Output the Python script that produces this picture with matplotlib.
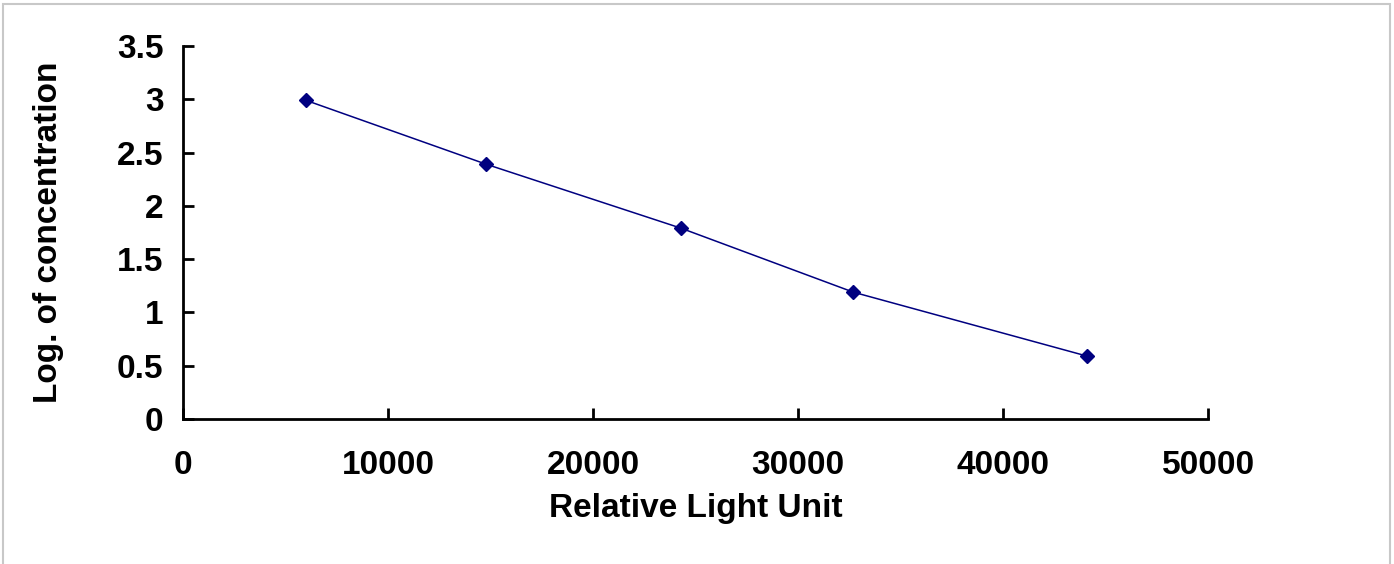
import matplotlib.pyplot as plt
from matplotlib.patches import Rectangle

# standard curve values
rlu = [6000, 14800, 24300, 32700, 44100]
log_conc = [2.99, 2.39, 1.79, 1.19, 0.59]

plt.rcParams['font.family'] = ['Liberation Sans', 'DejaVu Sans']
plt.rcParams['font.weight'] = 'bold'

fig = plt.figure(figsize=(13.94, 5.64), dpi=100)
ax = fig.add_axes([0.1313, 0.2571, 0.7353, 0.6613])

ax.plot(rlu, log_conc, color='#000080', linewidth=1.1,
        marker='D', markersize=7.5, markerfacecolor='#000080', markeredgecolor='#000080')

ax.set_xlim(0, 50000)
ax.set_ylim(0, 3.5)
ax.set_xticks([0, 10000, 20000, 30000, 40000, 50000])
ax.set_yticks([0, 0.5, 1, 1.5, 2, 2.5, 3, 3.5])
ax.set_yticklabels(['0', '0.5', '1', '1.5', '2', '2.5', '3', '3.5'])

ax.spines['top'].set_visible(False)
ax.spines['right'].set_visible(False)
for s in ('left', 'bottom'):
    ax.spines[s].set_linewidth(2)
ax.tick_params(direction='in', length=8, width=2, labelsize=24)
ax.tick_params(axis='x', pad=22)
ax.tick_params(axis='y', pad=14)

ax.set_xlabel('Relative Light Unit', fontsize=24, fontweight='bold', labelpad=9)
ax.set_ylabel('Log. of concentration', fontsize=24, fontweight='bold', labelpad=38)

# light grey frame around the figure
fig.patches.append(Rectangle((0.002, -0.01), 0.995, 1.003, transform=fig.transFigure,
                             fill=False, edgecolor='#c8c8c8', linewidth=1.5))

fig.savefig('out.png', dpi=100)
